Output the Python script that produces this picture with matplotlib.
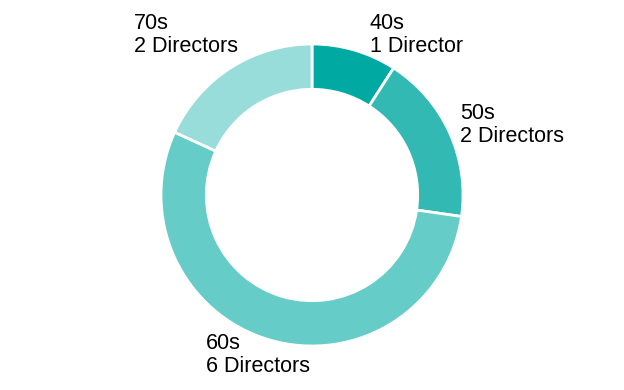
import matplotlib.pyplot as plt

decades = ["40s", "50s", "60s", "70s"]
directors = [1, 2, 6, 2]
colors = ["#00A9A1", "#33B9B3", "#66CCC7", "#99DDDA"]
# label anchors in pixels (left, top) on the 624x390 canvas
label_px = [(370, 13), (460, 103), (206, 333), (134, 13)]

plt.rcParams['font.family'] = ['Liberation Sans', 'DejaVu Sans']

fig = plt.figure(figsize=(6.24, 3.9), dpi=100)
ax = fig.add_axes([161 / 624, 44 / 390, 302 / 624, 302 / 390])
ax.pie(directors, colors=colors, startangle=90, counterclock=False, radius=1,
       wedgeprops=dict(width=0.3, edgecolor="white", linewidth=2))
ax.set_xlim(-1, 1)
ax.set_ylim(-1, 1)
ax.set_aspect("equal")
ax.axis("off")

for d, n, (px, py) in zip(decades, directors, label_px):
    word = "Director" if n == 1 else "Directors"
    fig.text(px / 624, 1 - py / 390, "%s\n%d %s" % (d, n, word),
             ha="left", va="top", fontsize=15.5, linespacing=1.15)

fig.savefig("out.png", dpi=100)
